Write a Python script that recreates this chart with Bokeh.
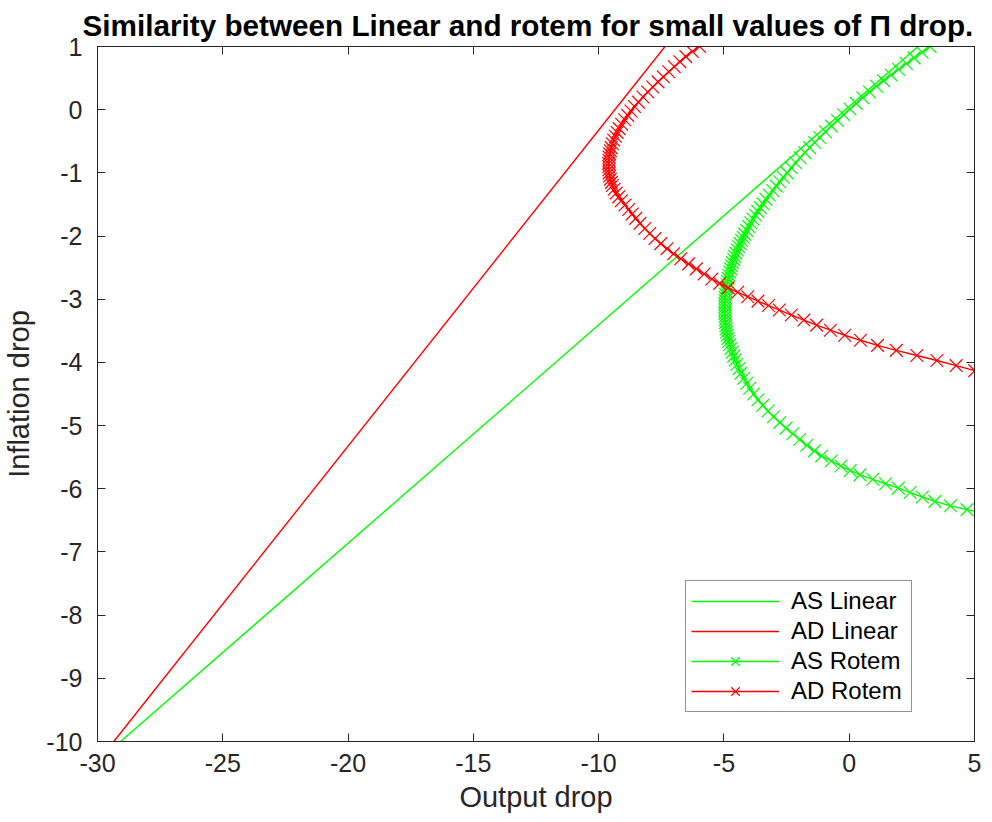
from bokeh.plotting import figure
from bokeh.models import Range1d, FixedTicker, LinearAxis, Legend, LegendItem
from bokeh.embed import file_html
from bokeh.resources import INLINE

# ---------------- data ----------------
title_text = "Similarity between Linear and rotem for small values of \u03a0 drop."
x_label = "Output drop"
y_label = "Inflation drop"

x_ticks = [-30, -25, -20, -15, -10, -5, 0, 5]
x_tick_labels = ["-30", "-25", "-20", "-15", "-10", "-5", "0", "5"]
y_ticks = [-10, -9, -8, -7, -6, -5, -4, -3, -2, -1, 0, 1]
y_tick_labels = ["-10", "-9", "-8", "-7", "-6", "-5", "-4", "-3", "-2", "-1", "0", "1"]

series_names = ["AS Linear", "AD Linear", "AS Rotem", "AD Rotem"]

as_linear_x = [-29.08, 2.75]
as_linear_y = [-10.0, 1.0]
ad_linear_x = [-29.35, -7.35]
ad_linear_y = [-10.0, 1.0]

as_rotem = [
    (3.23, 1.00), (2.91, 0.91), (2.59, 0.82), (2.28, 0.73), (1.97, 0.64), (1.67, 0.55),
    (1.37, 0.46), (1.09, 0.37), (0.81, 0.28), (0.54, 0.19), (0.28, 0.10), (0.03, 0.01),
    (-0.22, -0.08), (-0.47, -0.17), (-0.71, -0.26), (-0.95, -0.35), (-1.18, -0.44),
    (-1.38, -0.52), (-1.58, -0.60), (-1.77, -0.68), (-1.96, -0.76), (-2.14, -0.84),
    (-2.31, -0.92), (-2.48, -1.00), (-2.63, -1.07), (-2.77, -1.14), (-2.91, -1.21),
    (-3.05, -1.28), (-3.19, -1.35), (-3.32, -1.42), (-3.44, -1.49), (-3.55, -1.55),
    (-3.65, -1.61), (-3.74, -1.67), (-3.84, -1.73), (-3.93, -1.79), (-4.01, -1.85),
    (-4.09, -1.91), (-4.17, -1.97), (-4.23, -2.02), (-4.29, -2.07), (-4.35, -2.12),
    (-4.41, -2.17), (-4.46, -2.22), (-4.52, -2.27), (-4.57, -2.32), (-4.61, -2.37),
    (-4.66, -2.42), (-4.70, -2.47), (-4.73, -2.52), (-4.77, -2.57), (-4.80, -2.62),
    (-4.83, -2.67), (-4.86, -2.72), (-4.88, -2.77), (-4.90, -2.82), (-4.92, -2.87),
    (-4.94, -2.92), (-4.95, -2.97), (-4.95, -3.02), (-4.96, -3.07), (-4.96, -3.12),
    (-4.96, -3.17), (-4.96, -3.22), (-4.95, -3.27), (-4.95, -3.32), (-4.94, -3.37),
    (-4.92, -3.42), (-4.91, -3.47), (-4.89, -3.52), (-4.87, -3.57), (-4.84, -3.62),
    (-4.81, -3.67), (-4.77, -3.72), (-4.72, -3.78), (-4.67, -3.84), (-4.61, -3.90),
    (-4.55, -3.96), (-4.48, -4.03), (-4.40, -4.10), (-4.32, -4.17), (-4.21, -4.25),
    (-4.09, -4.33), (-3.97, -4.41), (-3.82, -4.50), (-3.64, -4.59), (-3.45, -4.68),
    (-3.24, -4.77), (-3.02, -4.86), (-2.77, -4.95), (-2.52, -5.04), (-2.25, -5.13),
    (-1.98, -5.22), (-1.69, -5.31), (-1.39, -5.40), (-1.10, -5.48), (-0.72, -5.56),
    (-0.33, -5.64), (0.04, -5.71), (0.43, -5.78), (0.94, -5.85), (1.45, -5.92),
    (1.96, -5.99), (2.43, -6.06), (2.92, -6.13), (3.42, -6.20), (4.04, -6.27),
    (4.70, -6.33), (5.30, -6.38),
]

ad_rotem = [
    (-5.97, 1.00), (-6.26, 0.92), (-6.52, 0.84), (-6.76, 0.76), (-6.98, 0.68), (-7.20, 0.60),
    (-7.42, 0.52), (-7.63, 0.44), (-7.84, 0.36), (-8.04, 0.28), (-8.23, 0.20), (-8.41, 0.12),
    (-8.57, 0.05), (-8.71, -0.02), (-8.84, -0.09), (-8.96, -0.16), (-9.08, -0.23),
    (-9.18, -0.30), (-9.26, -0.36), (-9.33, -0.42), (-9.40, -0.48), (-9.45, -0.54),
    (-9.50, -0.60), (-9.53, -0.65), (-9.56, -0.70), (-9.58, -0.75), (-9.59, -0.80),
    (-9.60, -0.85), (-9.60, -0.90), (-9.59, -0.95), (-9.58, -1.00), (-9.56, -1.05),
    (-9.53, -1.10), (-9.49, -1.15), (-9.45, -1.20), (-9.38, -1.26), (-9.30, -1.32),
    (-9.20, -1.38), (-9.09, -1.44), (-8.95, -1.51), (-8.80, -1.58), (-8.66, -1.65),
    (-8.52, -1.72), (-8.35, -1.80), (-8.16, -1.88), (-7.96, -1.96), (-7.75, -2.04),
    (-7.52, -2.12), (-7.27, -2.20), (-7.01, -2.28), (-6.72, -2.36), (-6.41, -2.44),
    (-6.10, -2.52), (-5.79, -2.60), (-5.48, -2.68), (-5.17, -2.75), (-4.83, -2.82),
    (-4.45, -2.89), (-4.05, -2.96), (-3.64, -3.03), (-3.22, -3.10), (-2.79, -3.17),
    (-2.31, -3.25), (-1.81, -3.33), (-1.30, -3.41), (-0.75, -3.49), (-0.18, -3.57),
    (0.45, -3.65), (1.13, -3.73), (1.88, -3.81), (2.70, -3.89), (3.50, -3.97),
    (4.27, -4.05), (5.01, -4.13), (5.60, -4.20),
]

# ---------------- style ----------------
FONT = "Liberation Sans"
AXC = "#262626"
GREEN = "#00FF00"
RED = "#FF0000"
LW = 1.4

p = figure(
    width=992, height=822,
    x_range=Range1d(-30, 5), y_range=Range1d(-10, 1),
    output_backend="svg", toolbar_location=None,
    min_border_left=97, min_border_right=18, min_border_top=46, min_border_bottom=81,
    background_fill_color="white", border_fill_color="white",
    outline_line_color=AXC, outline_line_width=1,
)
p.grid.visible = False

p.title.text = title_text
p.title.text_font = FONT
p.title.text_font_size = "29.7px"
p.title.text_font_style = "bold"
p.title.text_color = "black"
p.title.align = "left"
p.title.offset = -15
p.title.standoff = 10


def style_axis(ax, ticks, labels, show):
    ax.ticker = FixedTicker(ticks=ticks)
    ax.major_label_overrides = {t: l for t, l in zip(ticks, labels)}
    ax.major_tick_in = 8
    ax.major_tick_out = 0
    ax.minor_tick_line_color = None
    ax.axis_line_color = AXC
    ax.major_tick_line_color = AXC
    ax.axis_line_width = 1
    ax.major_tick_line_width = 1
    if show:
        ax.major_label_text_font = FONT
        ax.major_label_text_font_size = "25px"
        ax.major_label_text_color = AXC
        ax.axis_label_text_font = FONT
        ax.axis_label_text_font_size = "29px"
        ax.axis_label_text_font_style = "normal"
        ax.axis_label_text_color = AXC
    else:
        ax.major_label_text_font_size = "0px"
        ax.major_label_text_color = None
        ax.major_label_standoff = 0


style_axis(p.xaxis[0], x_ticks, x_tick_labels, True)
style_axis(p.yaxis[0], y_ticks, y_tick_labels, True)
p.xaxis[0].axis_label = x_label
p.yaxis[0].axis_label = y_label
p.xaxis[0].major_label_standoff = 12
p.yaxis[0].major_label_standoff = 15
p.xaxis[0].axis_label_standoff = 6
p.yaxis[0].axis_label_standoff = 8

top_axis = LinearAxis()
style_axis(top_axis, x_ticks, x_tick_labels, False)
p.add_layout(top_axis, "above")
right_axis = LinearAxis()
style_axis(right_axis, y_ticks, y_tick_labels, False)
p.add_layout(right_axis, "right")

r1 = p.line(as_linear_x, as_linear_y, line_color=GREEN, line_width=LW)
r2 = p.line(ad_linear_x, ad_linear_y, line_color=RED, line_width=LW)

as_x = [pt[0] for pt in as_rotem]
as_y = [pt[1] for pt in as_rotem]
ad_x = [pt[0] for pt in ad_rotem]
ad_y = [pt[1] for pt in ad_rotem]

r3 = p.line(as_x, as_y, line_color=GREEN, line_width=LW)
r3m = p.scatter(as_x, as_y, marker="x", size=18, line_color=GREEN, line_width=1.2)
r4 = p.line(ad_x, ad_y, line_color=RED, line_width=LW)
r4m = p.scatter(ad_x, ad_y, marker="x", size=18, line_color=RED, line_width=1.2)

legend = Legend(
    items=[
        LegendItem(label=series_names[0], renderers=[r1]),
        LegendItem(label=series_names[1], renderers=[r2]),
        LegendItem(label=series_names[2], renderers=[r3, r3m]),
        LegendItem(label=series_names[3], renderers=[r4, r4m]),
    ],
    location=(588, 29),
    padding=5, spacing=0, margin=0,
    label_height=30, glyph_height=30, glyph_width=88,
    label_standoff=12, label_width=115,
    label_text_font=FONT, label_text_font_size="24px", label_text_color="black",
    border_line_color=AXC, border_line_width=1,
    background_fill_color="white", background_fill_alpha=1.0,
)
p.add_layout(legend)

open("out.html", "w").write(file_html(p, INLINE))
